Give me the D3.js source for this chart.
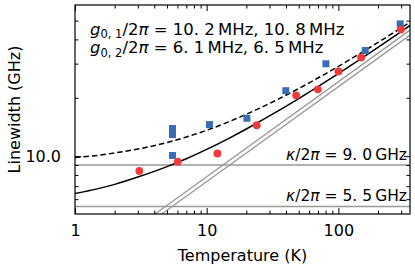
<!DOCTYPE html>
<html>
<head>
<meta charset="utf-8">
<script src="https://cdn.jsdelivr.net/npm/d3@7"></script>
<style>
  body { margin: 0; background: #fff; }
  svg text { font-family: "DejaVu Sans", sans-serif; fill: #000; }
</style>
</head>
<body>
<svg id="chart" width="415" height="266"></svg>
<script>
const tempSquares = [5.5, 5.5, 5.5, 10.5, 20.2, 39.9, 80.4, 160, 295];
const lwSquares = [10.08, 12.93, 13.88, 14.55, 15.68, 21.76, 29.95, 35.05, 48.1];
const tempCircles = [3.08, 6.03, 12.06, 24.0, 47.8, 69.9, 100.2, 149, 298.5];
const lwCircles = [8.38, 9.36, 10.32, 14.43, 20.58, 22.1, 27.34, 32.27, 44.95];

// fitted curves (sampled from the plot)
const fitTemp = [1, 1.5, 2, 3, 5, 7, 10, 15, 20, 30, 50, 70, 100, 150, 200, 300, 350];
const fitSolid = [6.42, 6.80, 7.15, 7.80, 8.83, 9.69, 10.83, 12.43, 13.80, 16.12, 19.82, 22.85, 26.68, 31.96, 36.41, 43.90, 47.2];
const fitDashed = [9.85, 10.1, 10.38, 10.88, 11.75, 12.55, 13.60, 15.12, 16.44, 18.69, 22.32, 25.29, 29.05, 34.23, 38.60, 45.92, 49.15];

// thermal broadening lines (end points)
const thermTemp1 = [4.0, 350];
const thermLw1 = [5.0, 44.66];
const thermTemp2 = [4.5, 350];
const thermLw2 = [5.0, 42.1];

// cavity linewidths
const kappaValues = [9.0, 5.5];
const kappaLabels = ["9. 0", "5. 5"];

const xMajor = [1, 10, 100];
const xMinor = [2, 3, 4, 5, 6, 7, 8, 9, 20, 30, 40, 50, 60, 70, 80, 90, 200, 300];
const yMajor = [10];
const yMinor = [6, 7, 8, 9, 20, 30, 40, 50];

const margin = { top: 5, right: 5, bottom: 52, left: 75 };
const width = 415 - margin.left - margin.right;
const height = 266 - margin.top - margin.bottom;

const svg = d3.select("#chart");
const g = svg.append("g").attr("transform", "translate(" + margin.left + "," + margin.top + ")");

const x = d3.scaleLog().domain([1, 350]).range([0, width]);
const y = d3.scaleLog().domain([5.03, 60.2]).range([height, 0]);

svg.append("defs").append("clipPath").attr("id", "plot")
  .append("rect").attr("width", width).attr("height", height);

const plot = g.append("g").attr("clip-path", "url(#plot)");

// horizontal kappa lines
plot.selectAll(".kappa").data(kappaValues).enter().append("line")
  .attr("x1", 0).attr("x2", width)
  .attr("y1", d => y(d)).attr("y2", d => y(d))
  .attr("stroke", "#999").attr("stroke-width", 1.3);

// thermal lines
const straight = d3.line().x(d => x(d[0])).y(d => y(d[1]));
[[thermTemp1, thermLw1], [thermTemp2, thermLw2]].forEach(function (p) {
  plot.append("path").attr("d", straight(d3.zip(p[0], p[1])))
    .attr("fill", "none").attr("stroke", "#999").attr("stroke-width", 1.3);
});

const curve = d3.line().x(d => x(d[0])).y(d => y(d[1])).curve(d3.curveMonotoneX);
plot.append("path").attr("d", curve(d3.zip(fitTemp, fitSolid)))
  .attr("fill", "none").attr("stroke", "#000").attr("stroke-width", 1.5);
plot.append("path").attr("d", curve(d3.zip(fitTemp, fitDashed)))
  .attr("fill", "none").attr("stroke", "#000").attr("stroke-width", 1.5)
  .attr("stroke-dasharray", "5.5,3");

// markers
const sq = 7;
plot.selectAll(".sq").data(d3.zip(tempSquares, lwSquares)).enter().append("rect")
  .attr("x", d => x(d[0]) - sq / 2).attr("y", d => y(d[1]) - sq / 2)
  .attr("width", sq).attr("height", sq)
  .attr("fill", "#3a6db4");
plot.selectAll(".ci").data(d3.zip(tempCircles, lwCircles)).enter().append("circle")
  .attr("cx", d => x(d[0])).attr("cy", d => y(d[1])).attr("r", 3.9)
  .attr("fill", "#ef3b3b");

// axes, ticks pointing inward on all four sides
function ticks(axis, values, size, label) {
  return axis.tickValues(values).tickSize(-size).tickSizeOuter(0)
    .tickFormat(label ? label : "");
}
const axes = [
  [d3.axisBottom(x), "translate(0," + height + ")", xMajor, xMinor, d => String(d), 11],
  [d3.axisTop(x), "translate(0,0)", xMajor, xMinor, null, 3],
  [d3.axisLeft(y), "translate(0,0)", yMajor, yMinor, d => d.toFixed(1), 14],
  [d3.axisRight(y), "translate(" + width + ",0)", yMajor, yMinor, null, 3]
];
axes.forEach(function (a) {
  const major = g.append("g").attr("transform", a[1])
    .call(ticks(a[0], a[2], 6, a[4]).tickPadding(a[5]));
  major.select(".domain").remove();
  major.attr("font-size", 16).attr("font-family", "DejaVu Sans");
  const minor = g.append("g").attr("transform", a[1])
    .call(ticks(a[0], a[3], 3.5, null));
  minor.select(".domain").remove();
  minor.selectAll("text").remove();
});
g.selectAll(".tick line").attr("stroke", "#000").attr("stroke-width", 1);

g.append("rect").attr("width", width).attr("height", height)
  .attr("fill", "none").attr("stroke", "#000").attr("stroke-width", 1.2);

// axis titles
svg.append("text").attr("x", margin.left + width / 2).attr("y", 261)
  .attr("text-anchor", "middle").attr("font-size", 16).text("Temperature (K)");
svg.append("text").attr("transform", "translate(19.5," + (margin.top + height / 2) + ") rotate(-90)")
  .attr("text-anchor", "middle").attr("font-size", 16).text("Linewidth (GHz)");

// annotations
const ann = g.append("g").attr("font-size", 16.5);
function gLabel(yPos, sub, values) {
  const t = ann.append("text").attr("x", 15).attr("y", yPos);
  t.append("tspan").attr("font-style", "italic").text("g");
  t.append("tspan").attr("font-size", 11.5).attr("dy", 3.5).text(sub);
  t.append("tspan").attr("dy", -3.5).text("/2");
  t.append("tspan").attr("font-style", "italic").text("\u03c0");
  t.append("tspan").text(" = " + values);
}
gLabel(29.5, "0, 1", "10. 2\u2009MHz, 10. 8\u2009MHz");
gLabel(48, "0, 2", "6. 1\u2009MHz, 6. 5\u2009MHz");

kappaValues.forEach(function (k, i) {
  const t = ann.append("text").attr("x", width - 3).attr("y", y(k) - 5.5)
    .attr("text-anchor", "end").attr("font-size", 15.5);
  t.append("tspan").attr("font-style", "italic").text("\u03ba");
  t.append("tspan").text("/2");
  t.append("tspan").attr("font-style", "italic").text("\u03c0");
  t.append("tspan").text(" = " + kappaLabels[i] + "\u2009GHz");
});
</script>
</body>
</html>
